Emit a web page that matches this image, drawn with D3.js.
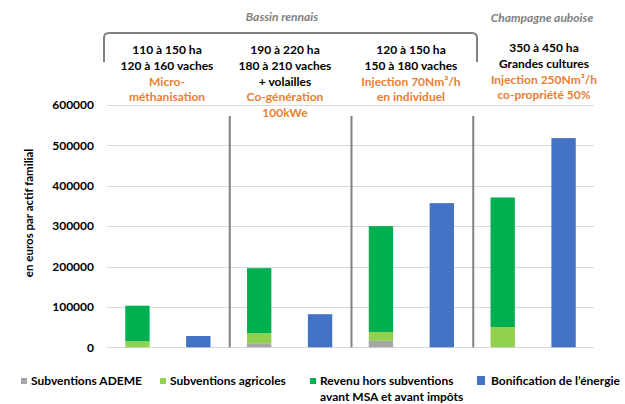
<!DOCTYPE html>
<html>
<head>
<meta charset="utf-8">
<script src="https://cdn.jsdelivr.net/npm/d3@7/dist/d3.min.js"></script>
<style>
  html, body { margin: 0; padding: 0; background: #fff; }
  svg { display: block; font-family: Lato, "Open Sans", sans-serif; }
</style>
</head>
<body>
<svg id="chart" width="625" height="404"></svg>
<script>
// Exploitations (one stacked bar + one energy bar per farm type)
const groups = ["micro", "cogen", "inj70", "inj250"];

// Stacked components of farm income (euros per family worker)
const subventionsAdeme = [0, 10000, 16000, 0];
const subventionsAgricoles = [15000, 25000, 22000, 50000];
const revenuHorsSubventions = [88000, 161000, 262000, 321000];

// Energy bonus
const bonificationEnergie = [28000, 82000, 357000, 518000];

// Y axis ticks
const yTicks = [0, 100000, 200000, 300000, 400000, 500000, 600000];

// Header text for each farm type: [text, isHighlighted]
const headerLines = [
  [["110 à 150 ha", false], ["120 à 160 vaches", false], ["Micro-", true], ["méthanisation", true]],
  [["190 à 220 ha", false], ["180 à 210 vaches", false], ["+ volailles", false], ["Co-génération", true], ["100kWe", true]],
  [["120 à 150 ha", false], ["150 à 180 vaches", false], ["Injection 70Nm³/h", true], ["en individuel", true]],
  [["350 à 450 ha", false], ["Grandes cultures", false], ["Injection 250Nm³/h", true], ["co-propriété 50%", true]]
];
const regionLabels = ["Bassin rennais", "Champagne auboise"];

const seriesKeys = ["ademe", "agricoles", "revenu"];
const seriesNames = {
  ademe: ["Subventions ADEME"],
  agricoles: ["Subventions agricoles"],
  revenu: ["Revenu hors subventions", "avant MSA et avant impôts"],
  bonif: ["Bonification de l\u2019énergie"]
};
const colors = { ademe: "#A5A5A5", agricoles: "#92D050", revenu: "#00B050", bonif: "#4472C4" };

const svg = d3.select("#chart");
const plot = { left: 107, right: 594, top: 105, bottom: 347.3 };

// One slot per bar: stacked income then energy bonus for each group
const slots = groups.flatMap(g => [g + "|stack", g + "|bonif"]);
const x = d3.scaleBand().domain(slots).range([plot.left, plot.right])
  .paddingInner(0.6).paddingOuter(0.3);
const y = d3.scaleLinear().domain([0, 600000]).range([plot.bottom, plot.top]);

// Gridlines
svg.append("g").selectAll("line").data(yTicks).join("line")
  .attr("x1", plot.left).attr("x2", plot.right)
  .attr("y1", d => Math.round(y(d)) + 0.5).attr("y2", d => Math.round(y(d)) + 0.5)
  .attr("stroke", "#d9d9d9").attr("stroke-width", 1);

// Y axis labels
const yAxis = d3.axisLeft(y).tickValues(yTicks).tickFormat(d3.format("d")).tickSize(0).tickPadding(0);
const ya = svg.append("g").attr("transform", "translate(94,0)").call(yAxis);
ya.select(".domain").remove();
ya.selectAll("text").attr("font-family", "Lato, sans-serif").attr("font-weight", "bold")
  .attr("font-size", 12).attr("fill", "#000");

svg.append("text")
  .attr("transform", "translate(33,213) rotate(-90)")
  .attr("text-anchor", "middle").attr("font-weight", "bold").attr("font-size", 11.5)
  .attr("fill", "#000")
  .text("en euros par actif familial");

// Stacked bars
const rows = groups.map((g, i) => ({
  group: g,
  ademe: subventionsAdeme[i],
  agricoles: subventionsAgricoles[i],
  revenu: revenuHorsSubventions[i]
}));
const stacked = d3.stack().keys(seriesKeys)(rows);
svg.append("g").selectAll("g").data(stacked).join("g")
  .attr("fill", d => colors[d.key])
  .selectAll("rect").data(d => d).join("rect")
  .attr("x", d => x(d.data.group + "|stack"))
  .attr("width", x.bandwidth())
  .attr("y", d => y(d[1]))
  .attr("height", d => y(d[0]) - y(d[1]));

// Energy bonus bars
svg.append("g").selectAll("rect").data(groups).join("rect")
  .attr("fill", colors.bonif)
  .attr("x", g => x(g + "|bonif"))
  .attr("width", x.bandwidth())
  .attr("y", (g, i) => y(bonificationEnergie[i]))
  .attr("height", (g, i) => y(0) - y(bonificationEnergie[i]));

// Group separators and bracket
const lineColor = "#808080";
const sepX = [1, 2, 3].map(i => (x(groups[i - 1] + "|bonif") + x.bandwidth() + x(groups[i] + "|stack")) / 2);
svg.append("g").selectAll("line").data(sepX).join("line")
  .attr("x1", d => d + 1).attr("x2", d => d + 1)
  .attr("y1", 116).attr("y2", plot.bottom)
  .attr("stroke", lineColor).attr("stroke-width", 2);

svg.append("path")
  .attr("d", "M104,62 V38 Q104,33 109,33 H472 Q477,33 477,38 V62")
  .attr("fill", "none").attr("stroke", lineColor).attr("stroke-width", 2);

// Region labels
svg.append("text").attr("x", 282).attr("y", 21).attr("text-anchor", "middle")
  .attr("font-style", "italic").attr("font-weight", "bold").attr("font-size", 12)
  .attr("fill", "#7f7f7f").text(regionLabels[0]);
svg.append("text").attr("x", 542).attr("y", 22).attr("text-anchor", "middle")
  .attr("font-style", "italic").attr("font-weight", "bold").attr("font-size", 12)
  .attr("fill", "#7f7f7f").text(regionLabels[1]);

// Header text columns
const colX = [167, 285, 411, 544];
const colY0 = [54, 54, 54, 52];
headerLines.forEach((lines, gi) => {
  const t = svg.append("text").attr("text-anchor", "middle")
    .attr("font-weight", "bold").attr("font-size", 12);
  lines.forEach(([txt, hi], li) => {
    t.append("tspan").attr("x", colX[gi]).attr("y", colY0[gi] + li * 15.8)
      .attr("fill", hi ? "#ED7D31" : "#000").text(txt);
  });
});

// Legend
const legendItems = [
  { key: "ademe", x: 21, size: 6 },
  { key: "agricoles", x: 160, size: 6 },
  { key: "revenu", x: 310, size: 6 },
  { key: "bonif", x: 477, size: 8 }
];
const lg = svg.append("g");
legendItems.forEach(it => {
  lg.append("rect").attr("x", it.x).attr("y", 381 - it.size / 2 - (it.key === "bonif" ? 1 : 0))
    .attr("width", it.size).attr("height", it.size + (it.key === "bonif" ? 1 : 0))
    .attr("fill", colors[it.key]);
  const t = lg.append("text").attr("font-weight", "bold").attr("font-size", 12).attr("fill", "#000");
  seriesNames[it.key].forEach((s, i) => {
    t.append("tspan").attr("x", it.x + it.size + 4 + (it.key === "bonif" ? 2 : 0))
      .attr("y", 385 + i * 16).text(s);
  });
});
</script>
</body>
</html>
